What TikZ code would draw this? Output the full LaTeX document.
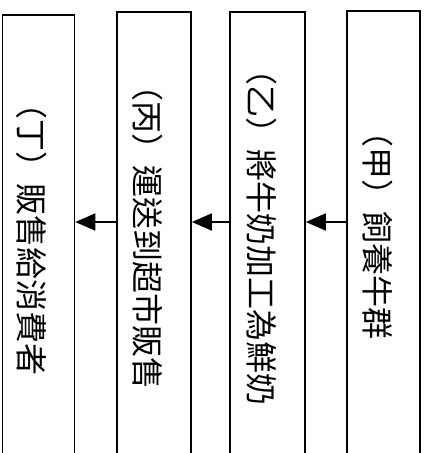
\documentclass[tikz,border=0pt]{standalone}
\usepackage{fontspec}
\newfontfamily\cjk{Noto Sans CJK TC}
\usetikzlibrary{arrows.meta}
\begin{document}
\begin{tikzpicture}[x=1pt,y=-1pt,
  stage/.style={draw=black,line width=1.8pt,minimum height=480pt,anchor=north west,inner sep=0pt},
  label/.style={rotate=-90,font=\cjk\fontsize{32}{32}\selectfont,inner sep=0pt},
  flow/.style={line width=1.6pt,-{Triangle[length=20pt,width=17pt]}}]
\useasboundingbox (0,0) rectangle (432,453);
\clip (0,0) rectangle (432,453);
\node[stage,minimum width=72pt] (d) at (1.5,14) {};
\node[stage,minimum width=74pt] (c) at (116,11) {};
\node[stage,minimum width=75pt] (b) at (229,11) {};
\node[stage,minimum width=73pt] (a) at (346,10) {};
\node[label] (ta) at (378,227) {（甲）飼養牛群};
\node[label] (tb) at (262,229) {（乙）將牛奶加工為鮮奶};
\node[label] (tc) at (148,229) {（丙）運送到超市販售};
\node[label] (td) at (32,231) {（丁）販售給消費者};
\coordinate (lvl) at (0,222);
\draw[flow] (a.west |- lvl) -- (b.east |- lvl);
\draw[flow] (b.west |- lvl) -- (c.east |- lvl);
\draw[flow] (c.west |- lvl) -- (d.east |- lvl);
\end{tikzpicture}
\end{document}
